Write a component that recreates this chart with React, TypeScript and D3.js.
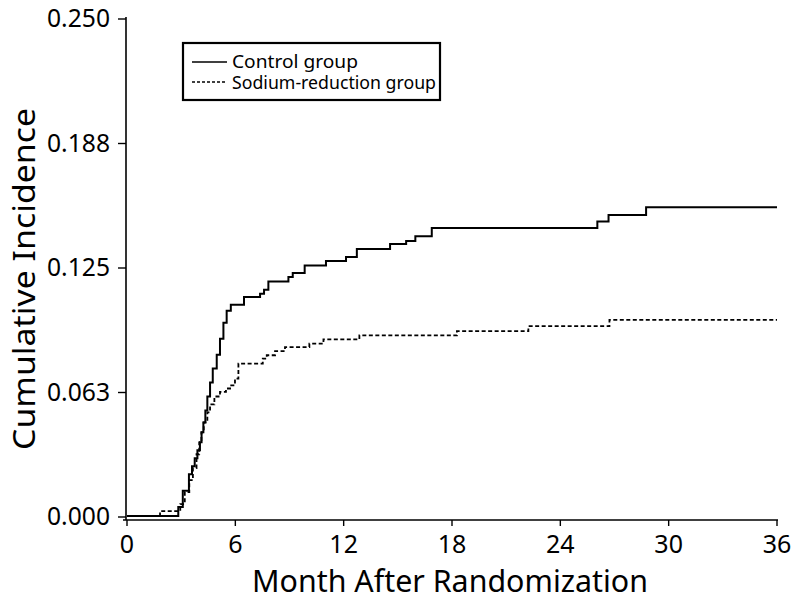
import * as d3 from "d3";

// months after randomization where each step happens, and the cumulative incidence after it
const controlMonths = [0, 2.84, 3.09, 3.43, 3.6, 3.75, 3.9, 4.04, 4.13, 4.23, 4.34, 4.45, 4.6, 4.75, 4.97, 5.15, 5.34, 5.52, 5.75, 6.48, 7.37, 7.59, 7.83, 8.94, 9.18, 9.84, 11.02, 12.13, 12.73, 14.57, 15.46, 15.97, 16.88, 26.05, 26.67, 28.75, 36];
const controlValues = [0, 0.0045, 0.0127, 0.021, 0.025, 0.029, 0.033, 0.037, 0.042, 0.047, 0.053, 0.06, 0.067, 0.074, 0.081, 0.089, 0.097, 0.103, 0.106, 0.11, 0.1116, 0.1136, 0.1177, 0.12, 0.122, 0.1258, 0.128, 0.13, 0.134, 0.1366, 0.138, 0.1404, 0.1446, 0.1478, 0.1511, 0.155, 0.155];

const sodiumMonths = [0, 1.83, 2.95, 3.2, 3.45, 3.65, 3.85, 4.0, 4.12, 4.25, 4.45, 4.6, 4.84, 5.15, 5.48, 5.71, 5.98, 6.17, 7.52, 7.74, 8.2, 8.75, 10.1, 10.88, 12.87, 18.27, 22.23, 26.72, 36];
const sodiumValues = [0, 0.0024, 0.006, 0.012, 0.018, 0.024, 0.031, 0.037, 0.042, 0.047, 0.052, 0.056, 0.06, 0.0623, 0.064, 0.0656, 0.069, 0.0765, 0.079, 0.0807, 0.0828, 0.0848, 0.0865, 0.0887, 0.0907, 0.0928, 0.0953, 0.0985, 0.0985];

const xTicks = [0, 6, 12, 18, 24, 30, 36];
const yTicks = [0, 0.0625, 0.125, 0.1875, 0.25];
const yTickLabels = ["0.000", "0.063", "0.125", "0.188", "0.250"];

const legendLabels = ["Control group", "Sodium-reduction group"];

const font = "'Noto Sans', 'Open Sans', sans-serif";

export default function App() {
  const width = 794;
  const height = 605;

  const x = d3.scaleLinear().domain([0, 36]).range([127, 777]);
  const y = d3.scaleLinear().domain([0, 0.25]).range([516, 18]);

  const controlPts: [number, number][] = controlMonths.map((m, i) => [x(m), y(controlValues[i])]);
  const sodiumPts: [number, number][] = sodiumMonths.map((m, i) => [x(m), y(sodiumValues[i])]);
  const stepLine = d3.line().curve(d3.curveStepAfter);

  const axisY = 520;
  const axisX = 126;

  return (
    <div style={{ position: "absolute", left: 0, top: 0 }}>
      <svg width={width} height={height} style={{ display: "block", background: "#fff" }}>
        {/* axes */}
        <line x1={axisX} x2={axisX} y1={y(0.25) - 1} y2={axisY} stroke="#000" strokeWidth={1.6} />
        <line x1={123} x2={x(36) + 1} y1={axisY} y2={axisY} stroke="#000" strokeWidth={1.6} />

        {yTicks.map((t, i) => (
          <g key={"y" + i}>
            <line x1={axisX - 8} x2={axisX} y1={y(t) + 1} y2={y(t) + 1} stroke="#000" strokeWidth={1.4} />
            <text
              x={110}
              y={y(t) - 1}
              textAnchor="end"
              dominantBaseline="central"
              fontFamily={font}
              fontSize={26}
              textLength={63}
              lengthAdjust="spacingAndGlyphs"
              fill="#000"
            >
              {yTickLabels[i]}
            </text>
          </g>
        ))}

        {xTicks.map((t) => (
          <g key={"x" + t}>
            <line x1={x(t)} x2={x(t)} y1={axisY} y2={axisY + 6} stroke="#000" strokeWidth={1.4} />
            <text x={x(t)} y={553} textAnchor="middle" fontFamily={font} fontSize={25} fill="#000">
              {t}
            </text>
          </g>
        ))}

        {/* axis titles */}
        <text
          x={450}
          y={592}
          textAnchor="middle"
          fontFamily={font}
          fontSize={31}
          textLength={396}
          lengthAdjust="spacingAndGlyphs"
          fill="#000"
        >
          Month After Randomization
        </text>
        <text
          transform="translate(35,279) rotate(-90)"
          textAnchor="middle"
          fontFamily={font}
          fontSize={31}
          textLength={342}
          lengthAdjust="spacingAndGlyphs"
          fill="#000"
        >
          Cumulative Incidence
        </text>

        {/* curves */}
        <path d={stepLine(sodiumPts) ?? ""} fill="none" stroke="#000" strokeWidth={1.8} strokeDasharray="4,2.5" />
        <path d={stepLine(controlPts) ?? ""} fill="none" stroke="#000" strokeWidth={2} />

        {/* legend */}
        <rect x={183} y={43} width={257} height={57} fill="#fff" stroke="#000" strokeWidth={2.2} />
        <line x1={192} x2={227} y1={62} y2={62} stroke="#000" strokeWidth={1.6} />
        <line x1={192} x2={227} y1={82} y2={82} stroke="#000" strokeWidth={1.5} strokeDasharray="3,2" />
        <text x={232} y={67.5} fontFamily={font} fontSize={18.5} textLength={126} lengthAdjust="spacingAndGlyphs" fill="#000">
          {legendLabels[0]}
        </text>
        <text x={232} y={89} fontFamily={font} fontSize={18.5} textLength={204} lengthAdjust="spacingAndGlyphs" fill="#000">
          {legendLabels[1]}
        </text>
      </svg>
    </div>
  );
}
